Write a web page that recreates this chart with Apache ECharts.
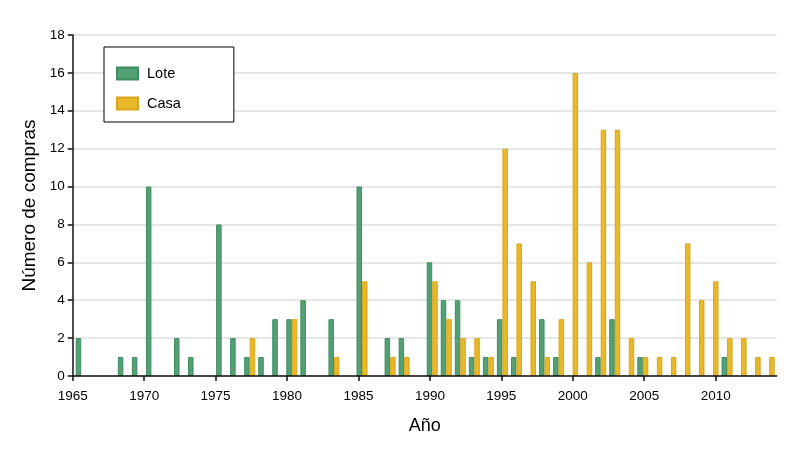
<!DOCTYPE html>
<html>
<head>
<meta charset="utf-8">
<script src="https://cdn.jsdelivr.net/npm/echarts@6/dist/echarts.min.js"></script>
<style>
html,body{margin:0;padding:0;background:#fff;}
#chart{width:800px;height:459px;}
</style>
</head>
<body>
<div id="chart"></div>
<script>
// Categories: years 1965..2014
const years = [1965,1966,1967,1968,1969,1970,1971,1972,1973,1974,
               1975,1976,1977,1978,1979,1980,1981,1982,1983,1984,
               1985,1986,1987,1988,1989,1990,1991,1992,1993,1994,
               1995,1996,1997,1998,1999,2000,2001,2002,2003,2004,
               2005,2006,2007,2008,2009,2010,2011,2012,2013,2014];
// Series values (Número de compras)
const lote = [2,0,0,1,1,10,0,2,1,0,
              8,2,1,1,3,3,4,0,3,0,
              10,0,2,2,0,6,4,4,1,1,
              3,1,0,3,1,0,0,1,3,0,
              1,0,0,0,0,0,1,0,0,0];
const casa = [0,0,0,0,0,0,0,0,0,0,
              0,0,2,0,0,3,0,0,1,0,
              5,0,1,1,0,5,3,2,2,1,
              12,7,5,1,3,16,6,13,13,2,
              1,1,1,7,4,5,2,2,1,1];
// Tick labels
const xTicks = [1965,1970,1975,1980,1985,1990,1995,2000,2005,2010];
const yTicks = [0,2,4,6,8,10,12,14,16,18];

const FONT = '"Liberation Sans", Arial, Helvetica, sans-serif';
const chart = echarts.init(document.getElementById('chart'), null, {renderer:'canvas'});
const nz = a => a.map(v => v === 0 ? null : v);

chart.setOption({
  animation: false,
  backgroundColor: '#fff',
  textStyle: {fontFamily: FONT},
  grid: [
    {left: 72.7, right: 23.3, top: 35, bottom: 83},
    {left: 74.2, right: 23.8, top: 35, bottom: 83}
  ],
  legend: {
    data: ['Lote','Casa'],
    orient: 'vertical',
    left: 104, top: 47,
    padding: [19, 53, 11, 12],
    icon: 'rect',
    itemWidth: 21, itemHeight: 12, itemGap: 15,
    borderColor: '#000', borderWidth: 1, backgroundColor: '#fff',
    textStyle: {fontSize: 14.5, color: '#000', fontFamily: FONT, padding: [0,0,0,4]}
  },
  xAxis: [
    {
      type: 'value', gridIndex: 0, min: 1965, max: 2014.27, interval: 5, z: 3,
      name: 'Año', nameLocation: 'middle', nameGap: 41,
      nameTextStyle: {fontSize: 18, color: '#000', fontFamily: FONT},
      axisLine: {show: true, lineStyle: {color: '#111', width: 1.5}},
      axisTick: {show: true, length: 5, lineStyle: {color: '#111', width: 1.5}, customValues: xTicks},
      axisLabel: {fontSize: 13.5, color: '#000', margin: 13, fontFamily: FONT, customValues: xTicks,
                  formatter: v => String(v)},
      splitLine: {show: false}
    },
    {
      type: 'category', gridIndex: 1, data: years, show: false, boundaryGap: true
    }
  ],
  yAxis: [
    {
      type: 'value', gridIndex: 0, min: 0, max: 18, interval: 2,
      name: 'Número de compras', nameLocation: 'middle', nameGap: 28,
      nameTextStyle: {fontSize: 19, color: '#000', fontFamily: FONT},
      axisLine: {show: true, lineStyle: {color: '#111', width: 1.5}},
      axisTick: {show: true, length: 5, lineStyle: {color: '#111', width: 1.5}},
      axisLabel: {fontSize: 13.5, color: '#000', margin: 8, fontFamily: FONT,
                  formatter: v => yTicks.includes(v) ? String(v) : ''},
      splitLine: {show: true, lineStyle: {color: '#dedede', width: 1.5}}
    },
    {
      type: 'value', gridIndex: 1, min: 0, max: 18, interval: 2, show: false,
      splitLine: {show: false}
    }
  ],
  series: [
    {
      name: 'Lote', type: 'bar', xAxisIndex: 1, yAxisIndex: 1,
      data: nz(lote), barWidth: 5.5, barGap: '0%',
      itemStyle: {color: '#52A074', borderColor: '#3F8C60', borderWidth: 1}
    },
    {
      name: 'Casa', type: 'bar', xAxisIndex: 1, yAxisIndex: 1,
      data: nz(casa), barWidth: 5.5, barGap: '0%',
      itemStyle: {color: '#E8B82B', borderColor: '#D9A51C', borderWidth: 1}
    }
  ]
});
</script>
</body>
</html>
